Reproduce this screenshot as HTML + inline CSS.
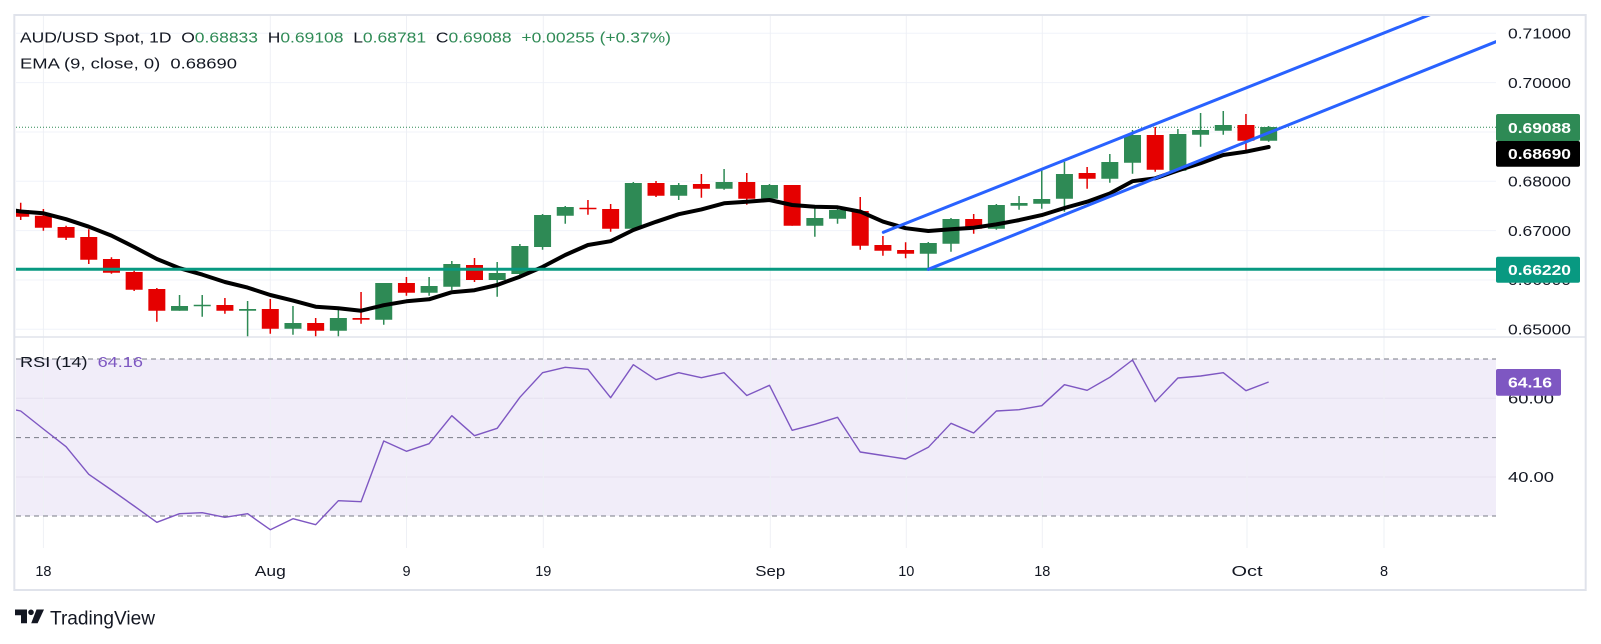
<!DOCTYPE html>
<html>
<head>
<meta charset="utf-8">
<style>
html,body{margin:0;padding:0;background:#fff;}
svg{display:block;}
text{font-family:"Liberation Sans",Arial,sans-serif;white-space:pre;}
</style>
</head>
<body>
<svg width="1601" height="644" viewBox="0 0 1601 644" xmlns="http://www.w3.org/2000/svg">
<defs>
<clipPath id="pp"><rect x="16" y="16" width="1480" height="320.5"/></clipPath>
<clipPath id="rp"><rect x="16" y="338" width="1480" height="210"/></clipPath>
</defs>
<rect x="0" y="0" width="1601" height="644" fill="#fff"/>

<!-- RSI background band -->
<rect x="16" y="359" width="1480" height="157" fill="#f1edf9"/>

<!-- horizontal grid price -->
<g stroke="#f0f3fa" stroke-width="1">
<line x1="16" x2="1496" y1="33.3" y2="33.3"/>
<line x1="16" x2="1496" y1="82.6" y2="82.6"/>
<line x1="16" x2="1496" y1="132" y2="132"/>
<line x1="16" x2="1496" y1="181.3" y2="181.3"/>
<line x1="16" x2="1496" y1="230.6" y2="230.6"/>
<line x1="16" x2="1496" y1="280" y2="280"/>
<line x1="16" x2="1496" y1="329.3" y2="329.3"/>
</g>
<g stroke="#e6e1f0" stroke-width="1">
<line x1="16" x2="1496" y1="398.3" y2="398.3"/>
<line x1="16" x2="1496" y1="477" y2="477"/>
</g>
<!-- vertical grid -->
<g stroke="#eef0f5" stroke-width="1">
<line x1="43.4" x2="43.4" y1="16" y2="548"/>
<line x1="270.3" x2="270.3" y1="16" y2="548"/>
<line x1="406.5" x2="406.5" y1="16" y2="548"/>
<line x1="543.3" x2="543.3" y1="16" y2="548"/>
<line x1="770.3" x2="770.3" y1="16" y2="548"/>
<line x1="906.3" x2="906.3" y1="16" y2="548"/>
<line x1="1042.3" x2="1042.3" y1="16" y2="548"/>
<line x1="1247" x2="1247" y1="16" y2="548"/>
<line x1="1384" x2="1384" y1="16" y2="548"/>
</g>

<!-- RSI dashed levels -->
<g stroke="#787b86" stroke-width="1" stroke-dasharray="5 4">
<line x1="16" x2="1496" y1="359" y2="359"/>
<line x1="16" x2="1496" y1="437.6" y2="437.6"/>
<line x1="16" x2="1496" y1="516" y2="516"/>
</g>

<!-- price pane content -->
<g clip-path="url(#pp)">
<line x1="16" x2="1496" y1="127.3" y2="127.3" stroke="#2e8a55" stroke-width="1" stroke-dasharray="1 2"/>
<path fill="none" stroke="#e50000" stroke-width="1.5" d="M20.7 202.7V220M43.39 209V230.7M66.08 225.7V240M88.77 229.3V264M111.46 257.3V273.7M134.15 270.7V291M156.84 288V321.7M224.91 298V313.7M270.29 299V333.7M315.67 318V336.7M361.05 292V323.7M406.43 277V295.7M474.5 258V282M587.95 200V214.7M610.64 204V231.7M656.02 181V197M701.4 174V197.7M746.78 173V204.7M792.16 185V225.7M860.23 197V249.7M882.92 236V255.7M905.61 242.3V258.3M973.68 214V233.7M1087.13 167V188.7M1155.2 127V171.7M1245.96 114V152.7"/>
<path fill="none" stroke="#2e8a55" stroke-width="1.5" d="M179.53 295V310.7M202.22 295V316.7M247.6 301V336.7M292.98 306V334.7M338.36 308V336.7M383.74 283V324.7M429.12 277V295.7M451.81 261V290M497.19 262V296.7M519.88 244V275M542.57 214V249.7M565.26 206V223.7M633.33 182V228.7M678.71 183V200M724.09 169V189.7M769.47 184V201.7M814.85 206V236.7M837.54 206V223.7M928.3 242V268.7M950.99 218V251.7M996.37 204V229.7M1019.06 196V209.7M1041.75 170V208.7M1064.44 161.7V211.7M1109.82 154V182.7M1132.51 130V173.7M1177.89 129V170.7M1200.58 113V146.7M1223.27 111V134.7M1268.65 126V141.7"/>
<path fill="none" stroke="#e50000" stroke-width="17" d="M20.7 210V216.7M43.39 215.7V227.7M66.08 227V237.7M88.77 237V259.7M111.46 259V272.7M134.15 272V289.7M156.84 289V310.7M224.91 305V310.7M270.29 309V328.7M315.67 323V330.7M361.05 318V319.7M406.43 283V292.7M474.5 265V280M587.95 207.7V209.2M610.64 209V228.7M656.02 183V195.7M701.4 184V188.7M746.78 182V198.7M792.16 185V225.7M860.23 211V245.7M882.92 245V250.7M905.61 250V253.7M973.68 219V228.7M1087.13 173V178.7M1155.2 135V169.7M1245.96 125V140.7"/>
<path fill="none" stroke="#2e8a55" stroke-width="17" d="M179.53 306V310.7M202.22 304.8V306.3M247.6 309V310.7M292.98 323V328.7M338.36 318V330.7M383.74 283V319.7M429.12 286V292.7M451.81 264V286.7M497.19 273V280M519.88 246V274M542.57 215V247M565.26 207V215.7M633.33 183V228.7M678.71 185V195.7M724.09 182V188.7M769.47 185V198.7M814.85 218V225.7M837.54 210V218.7M928.3 243V253.7M950.99 219V243.7M996.37 205V228.7M1019.06 203V205.7M1041.75 199V203.7M1064.44 174V198.7M1109.82 162V178.7M1132.51 135V162.7M1177.89 134V170.7M1200.58 130V134.7M1223.27 125V130.7M1268.65 127V140.7"/>
<polyline fill="none" stroke="#000" stroke-width="4" stroke-linejoin="round" stroke-linecap="round" points="16,210.7 20.7,211.5 43.39,213.3 66.08,219.2 88.77,226.7 111.46,235.6 134.15,247 156.84,259 179.53,268.2 202.22,274.6 224.91,282 247.6,287.6 270.29,295 292.98,300.6 315.67,306.7 338.36,308.3 361.05,310.7 383.74,305.2 406.43,301.3 429.12,299.3 451.81,292.2 474.5,290.2 497.19,285 519.88,276.7 542.57,266.9 565.26,255 587.95,245 610.64,241.2 633.33,230 656.02,221.8 678.71,214.2 701.4,209.4 724.09,203.3 746.78,201.7 769.47,200 792.16,205 814.85,206.7 837.54,207.3 860.23,211.6 882.92,221.6 905.61,228.2 928.3,231 950.99,229.3 973.68,227.7 996.37,224.4 1019.06,220.1 1041.75,215.1 1064.44,208 1087.13,201.7 1109.82,193.5 1132.51,181.2 1155.2,178.3 1177.89,170.5 1200.58,163.2 1223.27,155 1245.96,151.7 1268.65,147"/>
<line x1="16" x2="1496" y1="269.3" y2="269.3" stroke="#089981" stroke-width="3"/>
<line x1="883.3" y1="232.3" x2="1496" y2="-11.6" stroke="#2962ff" stroke-width="3" stroke-linecap="round"/>
<line x1="928.3" y1="269.3" x2="1496" y2="41.7" stroke="#2962ff" stroke-width="3" stroke-linecap="round"/>
</g>

<!-- RSI line -->
<g clip-path="url(#rp)">
<polyline fill="none" stroke="#7e57c2" stroke-width="1.4" stroke-linejoin="round" points="16,410 20.7,411 43.39,429 66.08,446.7 88.77,474.3 111.46,490 134.15,506 156.84,522.3 179.53,513.7 202.22,512.7 224.91,517.3 247.6,513.7 270.29,529.7 292.98,518.7 315.67,524.7 338.36,500.7 361.05,501.7 383.74,441 406.43,451.3 429.12,443.7 451.81,415.7 474.5,435.7 497.19,428.3 519.88,397.3 542.57,372.7 565.26,367.3 587.95,369.3 610.64,397.7 633.33,364.7 656.02,379.7 678.71,372.7 701.4,377.7 724.09,372.7 746.78,395.5 769.47,385.3 792.16,430.3 814.85,424.3 837.54,417.3 860.23,452 882.92,455.5 905.61,459 928.3,447.3 950.99,423.3 973.68,433 996.37,411 1019.06,409.7 1041.75,405.7 1064.44,384.7 1087.13,390.3 1109.82,377.3 1132.51,360 1155.2,401.7 1177.89,378 1200.58,376 1223.27,372.7 1245.96,390.7 1268.65,382"/>
</g>

<!-- frame & separators -->
<rect x="14.3" y="15" width="1571.4" height="575" fill="none" stroke="#e0e3eb" stroke-width="2"/>
<line x1="14" x2="1586" y1="337" y2="337" stroke="#e0e3eb" stroke-width="1.5"/>

<!-- header -->
<g font-size="14.5" fill="#131722">
<text x="20" y="42.5" textLength="651" lengthAdjust="spacingAndGlyphs">AUD/USD Spot, 1D  O<tspan fill="#2e8a55">0.68833</tspan>  H<tspan fill="#2e8a55">0.69108</tspan>  L<tspan fill="#2e8a55">0.68781</tspan>  C<tspan fill="#2e8a55">0.69088</tspan>  <tspan fill="#2e8a55">+0.00255 (+0.37%)</tspan></text>
<text x="20" y="68.5" textLength="217" lengthAdjust="spacingAndGlyphs">EMA (9, close, 0)  0.68690</text>
<text x="20" y="367" textLength="123" lengthAdjust="spacingAndGlyphs">RSI (14)  <tspan fill="#7e57c2">64.16</tspan></text>
</g>

<!-- price axis labels -->
<g font-size="14.5" fill="#131722">
<text x="1508" y="38.5" textLength="63" lengthAdjust="spacingAndGlyphs">0.71000</text>
<text x="1508" y="87.8" textLength="63" lengthAdjust="spacingAndGlyphs">0.70000</text>
<text x="1508" y="186.5" textLength="63" lengthAdjust="spacingAndGlyphs">0.68000</text>
<text x="1508" y="235.8" textLength="63" lengthAdjust="spacingAndGlyphs">0.67000</text>
<text x="1508" y="285.2" textLength="63" lengthAdjust="spacingAndGlyphs">0.66000</text>
<text x="1508" y="334.5" textLength="63" lengthAdjust="spacingAndGlyphs">0.65000</text>
<text x="1508" y="403.5" textLength="46" lengthAdjust="spacingAndGlyphs">60.00</text>
<text x="1508" y="482.2" textLength="46" lengthAdjust="spacingAndGlyphs">40.00</text>
</g>
<rect x="1496" y="114" width="84" height="27" rx="2" fill="#2e8a55"/>
<rect x="1496" y="141" width="84" height="25.7" rx="2" fill="#000"/>
<rect x="1496" y="256.7" width="84" height="26" rx="2" fill="#089981"/>
<rect x="1496" y="369" width="65" height="26.7" rx="2" fill="#7e57c2"/>
<g font-size="14.5" fill="#fff" font-weight="bold">
<text x="1508" y="132.8" textLength="63" lengthAdjust="spacingAndGlyphs">0.69088</text>
<text x="1508" y="159" textLength="63" lengthAdjust="spacingAndGlyphs">0.68690</text>
<text x="1508" y="275" textLength="63" lengthAdjust="spacingAndGlyphs">0.66220</text>
<text x="1508" y="387.6" textLength="44" lengthAdjust="spacingAndGlyphs">64.16</text>
</g>

<!-- time axis -->
<g font-size="14.5" fill="#131722" text-anchor="middle">
<text x="43.4" y="576">18</text>
<text x="270.3" y="576" textLength="31" lengthAdjust="spacingAndGlyphs">Aug</text>
<text x="406.5" y="576">9</text>
<text x="543.3" y="576">19</text>
<text x="770.3" y="576" textLength="30" lengthAdjust="spacingAndGlyphs">Sep</text>
<text x="906.3" y="576">10</text>
<text x="1042.3" y="576">18</text>
<text x="1247" y="576" textLength="31" lengthAdjust="spacingAndGlyphs">Oct</text>
<text x="1384" y="576">8</text>
</g>

<!-- TradingView logo -->
<g fill="#131722">
<path d="M15 609.5H27V623.3H21V615.3H15Z"/>
<circle cx="31" cy="612.3" r="2.8"/>
<path d="M36.5 609.5H44L37.6 623.3H31.2Z"/>
</g>
<text x="50" y="624.5" font-size="19" fill="#131722" textLength="105" lengthAdjust="spacingAndGlyphs">TradingView</text>
</svg>
</body>
</html>
